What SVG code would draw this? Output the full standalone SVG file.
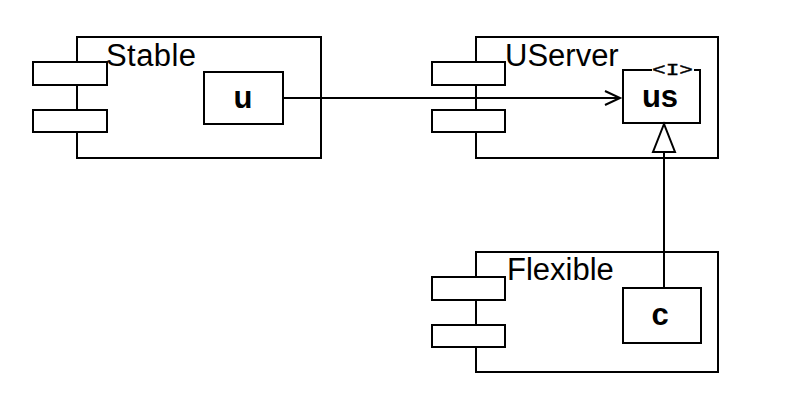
<svg xmlns="http://www.w3.org/2000/svg" width="800" height="410" viewBox="0 0 800 410">
<defs>
<style>
.box{fill:#fff;stroke:#000;stroke-width:2}
.port{fill:#fff;stroke:#000;stroke-width:2}
.title{font-family:"Liberation Sans",Arial,sans-serif;font-size:31px;fill:#000}
.name{font-family:"Liberation Sans",Arial,sans-serif;font-size:31px;font-weight:bold;fill:#000;text-anchor:middle}
.stereo{font-family:"Liberation Mono","Courier New",monospace;font-size:17px;fill:#000;stroke:#000;stroke-width:0.4}
.edge{fill:none;stroke:#000;stroke-width:2}
</style>
<marker id="open" markerWidth="20" markerHeight="20" refX="16" refY="8" orient="auto" markerUnits="userSpaceOnUse">
<path d="M1,1 L16,8 L1,15" fill="none" stroke="#000" stroke-width="2"/>
</marker>
</defs>
<rect width="800" height="410" fill="#fff"/>
<g id="Stable">
<rect class="box" x="77" y="37" width="244" height="121"/>
<rect class="port" x="33" y="62" width="74" height="23"/>
<rect class="port" x="33" y="110" width="74" height="22"/>
<text class="title" x="106" y="66" textLength="90">Stable</text>
</g>
<g id="u">
<rect class="box" x="204" y="72" width="79" height="52"/>
<text class="name" x="243" y="108">u</text>
</g>
<g id="UServer">
<rect class="box" x="476" y="37" width="242" height="121"/>
<rect class="port" x="432" y="62" width="73" height="23"/>
<rect class="port" x="432" y="110" width="73" height="22"/>
<text class="title" x="505" y="66">UServer</text>
</g>
<g id="us">
<path d="M652,70 L623,70 L623,123 L700,123 L700,70 L694,70" fill="#fff" stroke="#000" stroke-width="2"/>
<rect x="653" y="61" width="40" height="14" fill="#fff"/>
<text class="stereo" x="652" y="75" textLength="41" lengthAdjust="spacingAndGlyphs">&lt;I&gt;</text>
<text class="name" x="660" y="107">us</text>
</g>
<g id="Flexible">
<rect class="box" x="476" y="252" width="242" height="120"/>
<rect class="port" x="432" y="277" width="73" height="23"/>
<rect class="port" x="432" y="325" width="73" height="22"/>
<text class="title" x="507" y="280">Flexible</text>
</g>
<g id="c">
<rect class="box" x="623" y="288" width="78" height="55"/>
<text class="name" x="660" y="325">c</text>
</g>
<g id="connectors">
<line class="edge" x1="283" y1="98" x2="620" y2="98" marker-end="url(#open)"/>
<line class="edge" x1="664" y1="288" x2="664" y2="152"/>
<path d="M664,124 L653,152 L675,152 Z" fill="#fff" stroke="#000" stroke-width="2"/>
</g>
</svg>
